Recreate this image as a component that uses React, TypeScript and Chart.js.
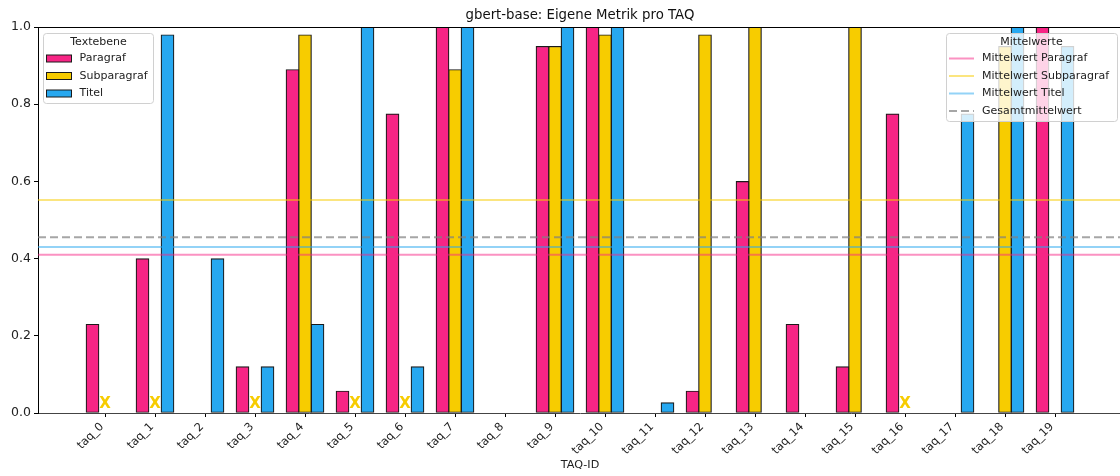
import React, { useEffect, useRef } from "react";
import { Chart, registerables } from "chart.js";

Chart.register(...registerables);

// ---------- data ----------
const chartTitle = "gbert-base: Eigene Metrik pro TAQ";
const taqLabels = [
  "taq_0", "taq_1", "taq_2", "taq_3", "taq_4", "taq_5", "taq_6", "taq_7", "taq_8", "taq_9",
  "taq_10", "taq_11", "taq_12", "taq_13", "taq_14", "taq_15", "taq_16", "taq_17", "taq_18", "taq_19",
];
const paragrafValues = [0.23, 0.40, 0, 0.12, 0.89, 0.057, 0.775, 1.0, 0, 0.95, 1.0, 0, 0.057, 0.60, 0.23, 0.12, 0.775, 0, 0, 1.0];
const subparagrafValues: (number | null)[] = [null, null, 0, null, 0.98, null, null, 0.89, 0, 0.95, 0.98, 0, 0.98, 1.0, 0, 1.0, null, 0, 0.95, 0];
const titelValues = [0, 0.98, 0.40, 0.12, 0.23, 1.0, 0.12, 1.0, 0, 1.0, 1.0, 0.027, 0, 0, 0, 0, 0, 0.775, 1.0, 0.95];
const meanParagraf = 0.41;
const meanSubparagraf = 0.552;
const meanTitel = 0.43;
const meanOverall = 0.455;
const missingMarkerValue = 0.024;
const yTicks = [0, 0.2, 0.4, 0.6, 0.8, 1.0];

// ---------- style ----------
const PINK = "#f72585";
const YELLOW = "#f7cc00";
const BLUE = "#27a8f0";
const EDGE = "#1a1a1a";
const X_MIN = -1.34;
const X_MAX = 20.34;
const FONT = "DejaVu Sans";

const groupOffset = [-0.25, 0, 0.25];

function barData(values: (number | null)[], k: number) {
  return values.map((v, i) => ({ x: i + groupOffset[k], y: v }));
}
function meanData(m: number) {
  return [
    { x: X_MIN, y: m },
    { x: X_MAX, y: m },
  ];
}

function roundRect(ctx: CanvasRenderingContext2D, x: number, y: number, w: number, h: number, r: number) {
  ctx.beginPath();
  ctx.moveTo(x + r, y);
  ctx.lineTo(x + w - r, y);
  ctx.arcTo(x + w, y, x + w, y + r, r);
  ctx.lineTo(x + w, y + h - r);
  ctx.arcTo(x + w, y + h, x + w - r, y + h, r);
  ctx.lineTo(x + r, y + h);
  ctx.arcTo(x, y + h, x, y + h - r, r);
  ctx.lineTo(x, y + r);
  ctx.arcTo(x, y, x + r, y, r);
  ctx.closePath();
}

const frameAndMarkersPlugin = {
  id: "frameAndMarkers",
  afterDatasetsDraw(chart: any) {
    const ctx: CanvasRenderingContext2D = chart.ctx;
    const area = chart.chartArea;
    ctx.save();
    // top spine
    ctx.strokeStyle = "#000";
    ctx.lineWidth = 1;
    ctx.beginPath();
    ctx.moveTo(area.left, Math.round(area.top) + 0.5);
    ctx.lineTo(area.right, Math.round(area.top) + 0.5);
    ctx.stroke();

    // "X" markers for missing Subparagraf values
    const meta = chart.getDatasetMeta(6);
    ctx.fillStyle = YELLOW;
    ctx.font = `bold 15px "${FONT}"`;
    ctx.textAlign = "center";
    ctx.textBaseline = "middle";
    meta.data.forEach((pt: any) => {
      ctx.fillText("X", pt.x, pt.y);
    });
    ctx.restore();
  },
  afterDraw(chart: any) {
    const ctx: CanvasRenderingContext2D = chart.ctx;
    const area = chart.chartArea;
    ctx.save();
    // title centred over the plot area
    ctx.font = `13.3px "${FONT}"`;
    ctx.fillStyle = "#111";
    ctx.textAlign = "center";
    ctx.textBaseline = "middle";
    ctx.fillText(chartTitle, (area.left + area.right) / 2, 16);

    // left legend: Textebene
    roundRect(ctx, 43.5, 33.5, 110, 70, 3);
    ctx.fillStyle = "rgba(255,255,255,0.8)";
    ctx.fill();
    ctx.strokeStyle = "#d0d0d0";
    ctx.lineWidth = 1;
    ctx.stroke();
    ctx.font = `11px "${FONT}"`;
    ctx.fillStyle = "#222";
    ctx.textBaseline = "middle";
    ctx.textAlign = "center";
    ctx.fillText("Textebene", 98.5, 42);
    ctx.textAlign = "left";
    const bars = [
      ["Paragraf", PINK, 58.5],
      ["Subparagraf", YELLOW, 76],
      ["Titel", BLUE, 93.5],
    ] as const;
    bars.forEach(([label, color, y]) => {
      ctx.fillStyle = color;
      ctx.fillRect(46.5, y - 3.5, 25, 7);
      ctx.strokeStyle = EDGE;
      ctx.strokeRect(46.5, y - 3.5, 25, 7);
      ctx.fillStyle = "#222";
      ctx.fillText(label, 79.5, y);
    });

    // right legend: Mittelwerte
    roundRect(ctx, 946.5, 33.5, 171, 88, 3);
    ctx.fillStyle = "rgba(255,255,255,0.8)";
    ctx.fill();
    ctx.strokeStyle = "#d0d0d0";
    ctx.stroke();
    ctx.fillStyle = "#222";
    ctx.textAlign = "center";
    ctx.fillText("Mittelwerte", 1031.5, 42);
    ctx.textAlign = "left";
    const lines = [
      ["Mittelwert Paragraf", "rgba(247,37,133,0.5)", 58.5, false],
      ["Mittelwert Subparagraf", "rgba(247,204,0,0.5)", 76, false],
      ["Mittelwert Titel", "rgba(39,168,240,0.5)", 93.5, false],
      ["Gesamtmittelwert", "rgba(128,128,128,0.7)", 111, true],
    ] as const;
    lines.forEach(([label, color, y, dashed]) => {
      ctx.strokeStyle = color;
      ctx.lineWidth = 2;
      ctx.setLineDash(dashed ? [8, 4] : []);
      ctx.beginPath();
      ctx.moveTo(949, y);
      ctx.lineTo(974, y);
      ctx.stroke();
      ctx.setLineDash([]);
      ctx.fillStyle = "#222";
      ctx.fillText(label, 982, y);
    });
    ctx.restore();
  },
};

export default function App() {
  const canvasRef = useRef<HTMLCanvasElement | null>(null);

  useEffect(() => {
    if (!canvasRef.current) return;
    Chart.defaults.font.family = FONT;
    Chart.defaults.color = "#222";

    const barCommon = {
      type: "bar" as const,
      borderColor: EDGE,
      borderWidth: 1.2,
      borderSkipped: false as const,
      barThickness: 13,
      grouped: false,
      order: 3,
    };
    const lineCommon = {
      type: "line" as const,
      pointRadius: 0,
      borderWidth: 2,
      fill: false,
      order: 1,
    };

    const missingMarkers = subparagrafValues
      .map((v, i) => (v === null ? { x: i, y: missingMarkerValue } : null))
      .filter((p) => p !== null);

    const chart = new Chart(canvasRef.current, {
      type: "bar",
      data: {
        datasets: [
          { ...barCommon, label: "Paragraf", data: barData(paragrafValues, 0), backgroundColor: PINK },
          { ...barCommon, label: "Subparagraf", data: barData(subparagrafValues, 1), backgroundColor: YELLOW },
          { ...barCommon, label: "Titel", data: barData(titelValues, 2), backgroundColor: BLUE },
          { ...lineCommon, label: "Mittelwert Paragraf", data: meanData(meanParagraf), borderColor: "rgba(247,37,133,0.5)" },
          { ...lineCommon, label: "Mittelwert Subparagraf", data: meanData(meanSubparagraf), borderColor: "rgba(247,204,0,0.5)" },
          { ...lineCommon, label: "Mittelwert Titel", data: meanData(meanTitel), borderColor: "rgba(39,168,240,0.5)" },
          {
            type: "scatter" as const,
            label: "fehlend",
            data: missingMarkers as any,
            pointRadius: 0,
            order: 0,
          },
          {
            ...lineCommon,
            label: "Gesamtmittelwert",
            data: meanData(meanOverall),
            borderColor: "rgba(128,128,128,0.7)",
            borderDash: [8, 4],
          },
        ] as any,
      },
      options: {
        responsive: false,
        animation: false,
        layout: { padding: { left: 0, right: 2, top: 27, bottom: 0 } },
        plugins: {
          legend: { display: false },
          tooltip: { enabled: false },
          title: { display: false },
        },
        scales: {
          x: {
            type: "linear",
            min: X_MIN,
            max: X_MAX,
            offset: false,
            afterBuildTicks: (axis: any) => {
              axis.ticks = taqLabels.map((_, i) => ({ value: i }));
            },
            afterFit: (axis: any) => {
              axis.height = 63;
            },
            ticks: {
              autoSkip: false,
              minRotation: 45,
              maxRotation: 45,
              padding: 3,
              labelOffset: -3,
              color: "#222",
              font: { size: 11.5, family: FONT },
              callback: (v: any) => taqLabels[Math.round(Number(v))] ?? "",
            },
            grid: {
              display: true,
              offset: false,
              drawOnChartArea: false,
              drawTicks: true,
              tickLength: 4,
              tickColor: "#000",
            },
            border: { display: true, color: "#444", width: 1 },
            title: {
              display: true,
              text: "TAQ-ID",
              color: "#222",
              font: { size: 11.2, family: FONT },
              padding: { top: 4, bottom: 4 },
            },
          },
          y: {
            type: "linear",
            min: 0,
            max: 1,
            afterBuildTicks: (axis: any) => {
              axis.ticks = yTicks.map((v) => ({ value: v }));
            },
            afterFit: (axis: any) => {
              axis.width = 38;
            },
            ticks: {
              padding: 3,
              color: "#222",
              font: { size: 12.5, family: FONT },
              callback: (v: any) => Number(v).toFixed(1),
            },
            grid: {
              display: true,
              drawOnChartArea: false,
              drawTicks: true,
              tickLength: 4,
              tickColor: "#000",
            },
            border: { display: true, color: "#000", width: 1 },
          },
        },
      },
      plugins: [frameAndMarkersPlugin],
    } as any);

    return () => {
      chart.destroy();
    };
  }, []);

  return (
    <div
      style={{
        position: "absolute",
        left: 0,
        top: 0,
        width: 1120,
        height: 476,
        overflow: "hidden",
        background: "#fff",
      }}
    >
      <canvas ref={canvasRef} width={1124} height={476} style={{ display: "block" }} />
    </div>
  );
}
